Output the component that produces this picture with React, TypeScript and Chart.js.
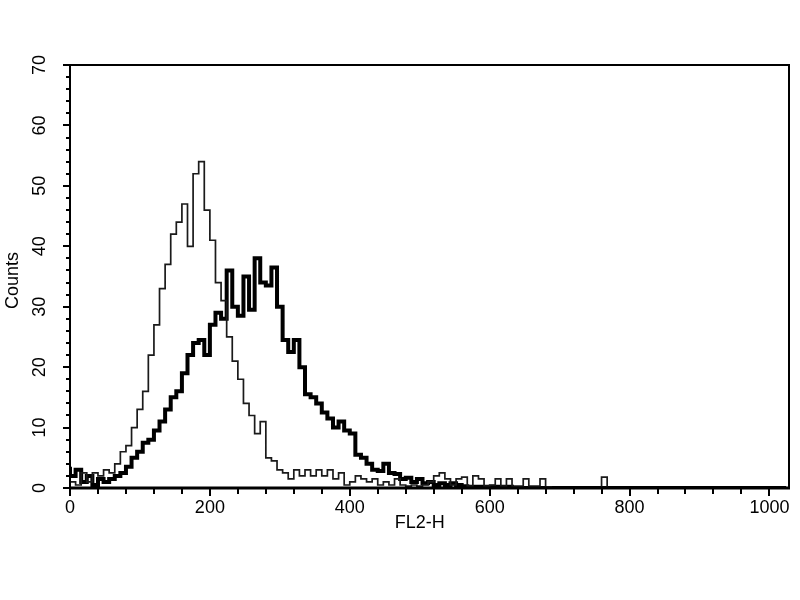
import React, { useEffect, useRef } from "react";
import { Chart, registerables } from "chart.js";

Chart.register(...registerables);

// Histogram channel width (FL2-H channel units per bin)
const BIN_WIDTH = 8;

// Thin trace: counts per 8-channel bin, starting at channel 0
const thinCounts = [
  3, 1, 0.5, 2.5, 1, 2.5, 2, 3, 2.5, 4, 6, 7, 10, 13, 16, 22,
  27, 33, 37, 42, 44, 47, 40, 52, 54, 46, 41, 34, 31, 25, 21, 18,
  14, 12, 9, 11, 5, 4.5, 3, 2.5, 1.5, 3, 2, 3, 2, 3, 2, 3,
  1.5, 2.5, 0.5, 1, 2, 1.5, 1, 1.5, 0.5, 1, 0.5, 1.5, 0.5, 0.3, 0.5, 0.3,
  0.5, 1, 2, 2.5, 1.5, 0.5, 1.5, 1.8, 0.3, 2, 1.5, 0.3, 0.5, 1.5, 0.3, 1.5,
  0.3, 0.3, 1.5, 0.3, 0.3, 1.5, 0.2, 0, 0, 0, 0, 0, 0, 0, 0, 0,
  1.8, 0, 0, 0, 0, 0, 0, 0, 0, 0, 0, 0, 0, 0, 0, 0,
  0, 0, 0, 0, 0, 0, 0, 0, 0, 0, 0, 0, 0, 0, 0, 0,
  0,
];

// Thick trace: counts per 8-channel bin, starting at channel 0
const thickCounts = [
  3.5, 2, 3, 1, 2, 0.5, 1.5, 1, 1.5, 2, 2.5, 3.5, 5, 6, 7.5, 8,
  9.5, 11, 13, 15, 16, 19, 22, 24, 24.5, 22, 27, 29, 28, 36, 30, 28.5,
  35, 29.5, 38, 34, 33.5, 36.5, 30, 24.5, 22.5, 24.5, 20, 15.5, 15, 14, 12.5, 11.5,
  10, 11, 9.5, 9, 5.5, 5, 4, 3, 2.8, 4, 2.5, 2.3, 1.5, 1.7, 1, 1.5,
  0.8, 1, 0.5, 0.8, 0.5, 0.8, 0.5, 0.3, 0.2, 0.2, 0.2, 0.2, 0.2, 0.2, 0.2, 0.2,
  0, 0, 0, 0, 0, 0, 0, 0, 0, 0, 0, 0, 0, 0, 0, 0,
  0, 0, 0, 0, 0, 0, 0, 0, 0, 0, 0, 0, 0, 0, 0, 0,
  0, 0, 0, 0, 0, 0, 0, 0, 0, 0, 0, 0, 0, 0, 0, 0,
  0,
];

const channels = thinCounts.map((_, i) => i * BIN_WIDTH);

const xTickLabels = [0, 200, 400, 600, 800, 1000];
const yTickLabels = [0, 10, 20, 30, 40, 50, 60, 70];
const X_MINOR_STEP = 40;
const Y_MINOR_STEP = 2;
const X_MAX = 1028;
const Y_MAX = 70;
const xTitle = "FL2-H";
const yTitle = "Counts";

const FONT = '18px "Liberation Sans", Arial, sans-serif';

const axesPlugin = {
  id: "facsAxes",
  afterDatasetsDraw(chart: any) {
    const { ctx, chartArea: a, scales } = chart;
    const xs = scales.x;
    const ys = scales.y;
    ctx.save();
    ctx.strokeStyle = "#000";
    ctx.fillStyle = "#000";
    // frame
    ctx.lineWidth = 2;
    ctx.strokeRect(a.left, a.top, a.right - a.left, a.bottom - a.top);
    ctx.lineWidth = 3;
    ctx.beginPath();
    ctx.moveTo(a.left, a.bottom);
    ctx.lineTo(a.right + 1, a.bottom);
    ctx.stroke();

    // y ticks
    ctx.lineWidth = 2;
    for (let v = 0; v <= Y_MAX; v += Y_MINOR_STEP) {
      const py = Math.round(ys.getPixelForValue(v));
      const len = v % 10 === 0 ? 7 : 4;
      ctx.beginPath();
      ctx.moveTo(a.left - len, py);
      ctx.lineTo(a.left, py);
      ctx.stroke();
    }
    // x ticks
    for (let v = 0; v <= 1000; v += X_MINOR_STEP) {
      const px = Math.round(xs.getPixelForValue(v));
      const len = v % 200 === 0 ? 8 : 6;
      ctx.beginPath();
      ctx.moveTo(px, a.bottom);
      ctx.lineTo(px, a.bottom + len);
      ctx.stroke();
    }

    ctx.font = FONT;
    // x tick labels
    ctx.textAlign = "center";
    ctx.textBaseline = "middle";
    xTickLabels.forEach((v) => {
      ctx.fillText(String(v), xs.getPixelForValue(v), a.bottom + 20);
    });
    ctx.fillText(xTitle, (xs.getPixelForValue(0) + xs.getPixelForValue(1000)) / 2, a.bottom + 35);

    // y tick labels (rotated)
    yTickLabels.forEach((v) => {
      ctx.save();
      ctx.translate(a.left - 30, ys.getPixelForValue(v));
      ctx.rotate(-Math.PI / 2);
      ctx.fillText(String(v), 0, 0);
      ctx.restore();
    });
    ctx.save();
    ctx.translate(13, (a.top + a.bottom) / 2 + 4);
    ctx.rotate(-Math.PI / 2);
    ctx.fillText(yTitle, 0, 0);
    ctx.restore();

    ctx.restore();
  },
};

export default function App() {
  const canvasRef = useRef<HTMLCanvasElement | null>(null);

  useEffect(() => {
    const canvas = canvasRef.current;
    if (!canvas) return;
    const chart = new Chart(canvas, {
      type: "line",
      data: {
        datasets: [
          {
            label: "thin",
            data: channels.map((c, i) => ({ x: c, y: thinCounts[i] })),
            borderColor: "#1a1a1a",
            borderWidth: 1.7,
            stepped: "after",
            pointRadius: 0,
            fill: false,
          },
          {
            label: "thick",
            data: channels.map((c, i) => ({ x: c, y: thickCounts[i] })),
            borderColor: "#000000",
            borderWidth: 4,
            stepped: "after",
            pointRadius: 0,
            fill: false,
          },
        ],
      },
      options: {
        responsive: false,
        animation: false,
        layout: { padding: { left: 70, right: 11, top: 65, bottom: 112 } },
        plugins: {
          legend: { display: false },
          tooltip: { enabled: false },
          title: { display: false },
        },
        scales: {
          x: { type: "linear", display: false, min: 0, max: X_MAX },
          y: { type: "linear", display: false, min: 0, max: Y_MAX },
        },
      },
      plugins: [axesPlugin],
    });
    return () => chart.destroy();
  }, []);

  return (
    <div style={{ position: "absolute", left: 0, top: 0, width: 800, height: 600, background: "#fff" }}>
      <canvas ref={canvasRef} width={800} height={600} style={{ display: "block" }} />
    </div>
  );
}
